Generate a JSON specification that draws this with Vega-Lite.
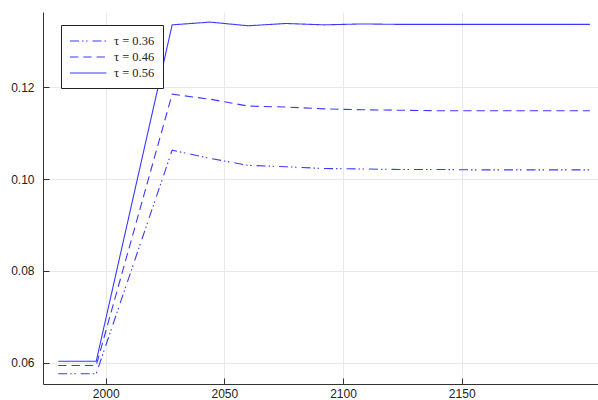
{
  "$schema": "https://vega.github.io/schema/vega-lite/v6.json",
  "autosize": "none",
  "width": 555,
  "height": 372,
  "padding": {"left": 43, "top": 12, "right": 0, "bottom": 16},
  "background": "white",
  "config": {
    "view": {"stroke": null},
    "axis": {
      "labelFont": "Liberation Sans",
      "labelFontSize": 12,
      "labelColor": "#222222",
      "domainColor": "#333333",
      "domainWidth": 1,
      "tickColor": "#333333",
      "tickSize": -6,
      "gridColor": "#e9e9e9",
      "gridWidth": 1,
      "title": null
    }
  },
  "data": {
    "values": [
      {"year": 1980, "value": 0.0576, "series": "τ = 0.36"},
      {"year": 1996, "value": 0.0576, "series": "τ = 0.36"},
      {"year": 2028, "value": 0.1063, "series": "τ = 0.36"},
      {"year": 2044, "value": 0.1045, "series": "τ = 0.36"},
      {"year": 2060, "value": 0.1030, "series": "τ = 0.36"},
      {"year": 2076, "value": 0.1027, "series": "τ = 0.36"},
      {"year": 2092, "value": 0.1023, "series": "τ = 0.36"},
      {"year": 2108, "value": 0.1022, "series": "τ = 0.36"},
      {"year": 2124, "value": 0.1021, "series": "τ = 0.36"},
      {"year": 2140, "value": 0.1021, "series": "τ = 0.36"},
      {"year": 2156, "value": 0.1020, "series": "τ = 0.36"},
      {"year": 2172, "value": 0.1020, "series": "τ = 0.36"},
      {"year": 2188, "value": 0.1020, "series": "τ = 0.36"},
      {"year": 2204, "value": 0.1020, "series": "τ = 0.36"},

      {"year": 1980, "value": 0.0594, "series": "τ = 0.46"},
      {"year": 1996, "value": 0.0594, "series": "τ = 0.46"},
      {"year": 2028, "value": 0.1185, "series": "τ = 0.46"},
      {"year": 2044, "value": 0.1174, "series": "τ = 0.46"},
      {"year": 2060, "value": 0.1159, "series": "τ = 0.46"},
      {"year": 2076, "value": 0.1157, "series": "τ = 0.46"},
      {"year": 2092, "value": 0.1153, "series": "τ = 0.46"},
      {"year": 2108, "value": 0.1151, "series": "τ = 0.46"},
      {"year": 2124, "value": 0.1150, "series": "τ = 0.46"},
      {"year": 2140, "value": 0.1149, "series": "τ = 0.46"},
      {"year": 2156, "value": 0.1149, "series": "τ = 0.46"},
      {"year": 2172, "value": 0.1149, "series": "τ = 0.46"},
      {"year": 2188, "value": 0.1149, "series": "τ = 0.46"},
      {"year": 2204, "value": 0.1149, "series": "τ = 0.46"},

      {"year": 1980, "value": 0.0603, "series": "τ = 0.56"},
      {"year": 1996, "value": 0.0603, "series": "τ = 0.56"},
      {"year": 2028, "value": 0.1336, "series": "τ = 0.56"},
      {"year": 2044, "value": 0.1342, "series": "τ = 0.56"},
      {"year": 2060, "value": 0.1334, "series": "τ = 0.56"},
      {"year": 2076, "value": 0.1339, "series": "τ = 0.56"},
      {"year": 2092, "value": 0.1336, "series": "τ = 0.56"},
      {"year": 2108, "value": 0.1338, "series": "τ = 0.56"},
      {"year": 2124, "value": 0.1337, "series": "τ = 0.56"},
      {"year": 2140, "value": 0.1337, "series": "τ = 0.56"},
      {"year": 2156, "value": 0.1337, "series": "τ = 0.56"},
      {"year": 2172, "value": 0.1337, "series": "τ = 0.56"},
      {"year": 2188, "value": 0.1337, "series": "τ = 0.56"},
      {"year": 2204, "value": 0.1337, "series": "τ = 0.56"}
    ]
  },
  "mark": {"type": "line", "color": "#3a3aff", "strokeWidth": 1.1, "clip": true},
  "encoding": {
    "x": {
      "field": "year",
      "type": "quantitative",
      "scale": {"domain": [1973.58, 2207.43], "nice": false, "zero": false},
      "axis": {"values": [2000, 2050, 2100, 2150], "format": "d", "labelPadding": 10, "grid": true}
    },
    "y": {
      "field": "value",
      "type": "quantitative",
      "scale": {"domain": [0.05536, 0.1364], "nice": false, "zero": false},
      "axis": {"values": [0.06, 0.08, 0.10, 0.12], "format": ".2f", "labelPadding": 15, "grid": true}
    },
    "strokeDash": {
      "field": "series",
      "type": "nominal",
      "scale": {
        "domain": ["τ = 0.36", "τ = 0.46", "τ = 0.56"],
        "range": [[9, 3, 1.5, 2.5, 1.5, 5], [8.3, 5], [1, 0]]
      },
      "legend": {
        "title": null,
        "orient": "none",
        "legendX": 18,
        "legendY": 13,
        "direction": "vertical",
        "symbolType": "M-1,0H4.2",
        "symbolSize": 196,
        "symbolStrokeColor": "#3a3aff",
        "symbolStrokeWidth": 1.1,
        "labelFont": "Liberation Serif",
        "labelFontSize": 12.5,
        "labelColor": "#222222",
        "labelOffset": 29,
        "rowPadding": 1,
        "padding": 8,
        "strokeColor": "#222222",
        "fillColor": "white"
      }
    }
  }
}
